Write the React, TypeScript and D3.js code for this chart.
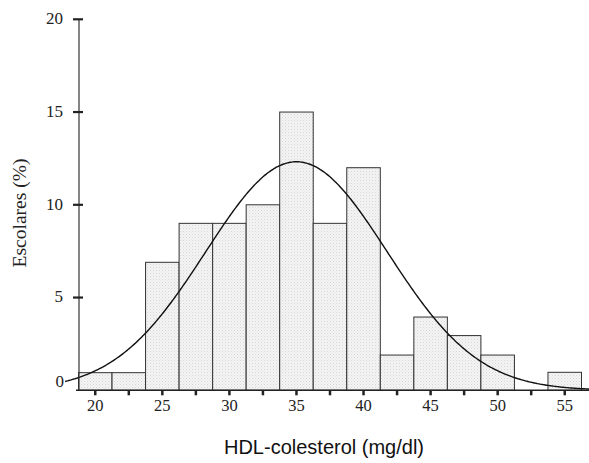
import React from "react";
import * as d3 from "d3";

// HDL-cholesterol bin centres (mg/dl), bin width 2.5
const binCenters = [20, 22.5, 25, 27.5, 30, 32.5, 35, 37.5, 40, 42.5, 45, 47.5, 50, 52.5, 55];
// Percentage of schoolchildren per bin
const binValues = [0.95, 0.95, 6.9, 9, 9, 10, 15, 9, 12, 1.9, 3.95, 2.95, 1.9, 0, 0.97];
const binWidth = 2.5;

const xTickLabels = [20, 25, 30, 35, 40, 45, 50, 55];
const xMinorTicks = [20, 22.5, 25, 27.5, 30, 32.5, 35, 37.5, 40, 42.5, 45, 47.5, 50, 52.5, 55];
const yTickLabels = [0, 5, 10, 15, 20];

// fitted normal curve parameters
const curveMean = 35;
const curveSd = 6.76;
const curvePeak = 12.32;
const curveRange = [17.75, 57];

export default function App() {
  const W = 589;
  const H = 463;
  const x = d3.scaleLinear().domain([18.75, 56.25]).range([78.5, 581.5]);
  const y = d3.scaleLinear().domain([0, 20]).range([390.3, 19.3]);

  const curvePts: [number, number][] = d3
    .range(curveRange[0], curveRange[1] + 0.001, 0.1)
    .map((v) => [v, curvePeak * Math.exp(-((v - curveMean) ** 2) / (2 * curveSd * curveSd))]);
  const line = d3
    .line<[number, number]>()
    .x((d) => x(d[0]))
    .y((d) => y(d[1]))
    .curve(d3.curveMonotoneX);

  const axisX = 79;
  const serif = "'Liberation Serif', 'Times New Roman', serif";
  const sans = "'Liberation Sans', Arial, sans-serif";

  return (
    <svg
      width={W}
      height={H}
      style={{ position: "absolute", left: 0, top: 0, background: "#fff" }}
    >
      <defs>
        <pattern id="stipple" width="3" height="3" patternUnits="userSpaceOnUse">
          <rect width="3" height="3" fill="#f4f4f4" />
          <rect x="0" y="0" width="1" height="1" fill="#d6d6d6" />
          <rect x="1.5" y="1.5" width="1" height="1" fill="#e2e2e2" />
        </pattern>
      </defs>
      <rect width={W} height={H} fill="#fff" />

      {/* bars */}
      {binCenters.map((c, i) =>
        binValues[i] > 0 ? (
          <rect
            key={c}
            x={x(c - binWidth / 2)}
            y={y(binValues[i])}
            width={x(c + binWidth / 2) - x(c - binWidth / 2)}
            height={y(0) - y(binValues[i])}
            fill="url(#stipple)"
            stroke="#333"
            strokeWidth={1}
          />
        ) : null
      )}

      {/* normal curve */}
      <path d={line(curvePts) || ""} fill="none" stroke="#111" strokeWidth={1.4} />

      {/* x axis */}
      <line x1={76} x2={589} y1={y(0)} y2={y(0)} stroke="#222" strokeWidth={1.4} />
      {xMinorTicks.map((t) => (
        <line key={t} x1={x(t)} x2={x(t)} y1={y(0)} y2={y(0) + 5} stroke="#222" strokeWidth={2.5} />
      ))}
      {xTickLabels.map((t) => (
        <text
          key={t}
          x={x(t)}
          y={407}
          textAnchor="middle"
          dominantBaseline="middle"
          fontFamily={serif}
          fontSize={16.5}
          fill="#222"
        >
          {t}
        </text>
      ))}

      {/* y axis */}
      <line x1={axisX} x2={axisX} y1={y(20)} y2={y(0)} stroke="#333" strokeWidth={1.2} />
      {yTickLabels.map((t) => (
        <g key={t}>
          {t > 0 && (
            <line x1={73} x2={83} y1={y(t)} y2={y(t)} stroke="#222" strokeWidth={2.2} />
          )}
          <text
            x={t === 0 ? 64 : 63}
            y={t === 0 ? y(t) - 7.5 : y(t) + 1}
            textAnchor="end"
            dominantBaseline="middle"
            fontFamily={serif}
            fontSize={17}
            fill="#222"
          >
            {t}
          </text>
        </g>
      ))}

      {/* axis titles */}
      <text
        transform="translate(26,213) rotate(-90)"
        textAnchor="middle"
        fontFamily={serif}
        fontSize={19.5}
        fill="#222"
      >
        Escolares (%)
      </text>
      <text x={324} y={454} textAnchor="middle" fontFamily={sans} fontSize={20} fill="#111">
        HDL-colesterol (mg/dl)
      </text>
    </svg>
  );
}
